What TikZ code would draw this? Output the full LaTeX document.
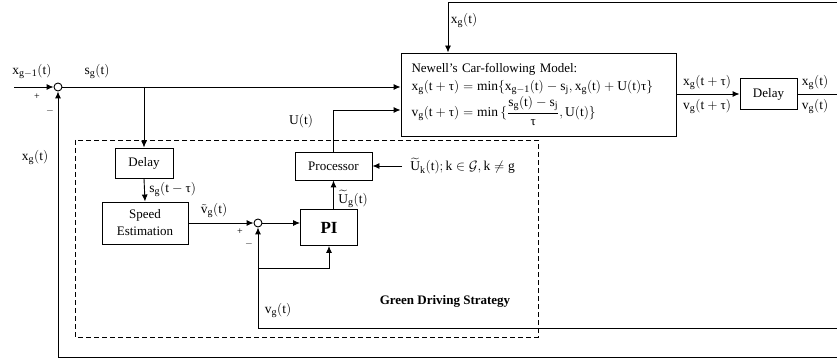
\documentclass[tikz,border=0pt]{standalone}
\usepackage{fix-cm}
\usepackage{amsmath}
\usepackage{fontspec}
\setmainfont{Liberation Serif}
\DeclareMathSizes{13}{13.5}{10}{8}
\usetikzlibrary{arrows.meta,calc}
\newcommand\vsub[2]{\mathrm{#1}_{\mathrm{#2}}}
\newcommand\utau{\mbox{τ}}
\begin{document}
\begin{tikzpicture}[x=1pt,y=-1pt,
  font=\fontsize{13}{15}\selectfont,
  line width=0.9pt,
  arr/.style={-{Latex[length=7pt,width=6pt]}},
  blk/.style={draw,rectangle,inner sep=0pt,align=center},
  sumj/.style={draw,circle,minimum size=8pt,inner sep=0pt},
  lbl/.style={inner sep=0pt}]
\useasboundingbox (0,0) rectangle (837,363);

% blocks
\node[blk,minimum width=275pt,minimum height=83pt,text width=254pt,align=left] (newell) at (538.5,94.5)
 {Newell’s Car-following Model:\\[3pt]
  $\vsub{x}{g}(\mathrm{t}+\utau)=\min\{\vsub{x}{g-1}(\mathrm{t})-\vsub{s}{j},\vsub{x}{g}(\mathrm{t})+\mathrm{U}(\mathrm{t})\utau\}$\\[1pt]
  $\vsub{v}{g}(\mathrm{t}+\utau)=\min\,\{\dfrac{\vsub{s}{g}(\mathrm{t})-\vsub{s}{j}}{\utau},\mathrm{U}(\mathrm{t})\}$};

\node[sumj] (j1) at (58,87) {};
\node[blk,minimum width=58pt,minimum height=30pt] (delay1) at (144,163) {Delay};
\node[blk,minimum width=86pt,minimum height=42pt] (se) at (145,223) {Speed\\[2pt]Estimation};
\node[sumj] (j2) at (258,223) {};
\node[blk,minimum width=57pt,minimum height=36pt] (pi) at (329,227.5) {\fontsize{17}{20}\selectfont\bfseries PI};
\node[blk,minimum width=77pt,minimum height=28pt] (proc) at (333.5,166) {Processor};
\node[blk,minimum width=57pt,minimum height=31pt] (delay2) at (768.5,94) {Delay};

% free ends
\coordinate (in1) at (14,87);
\coordinate (b1) at (144,87);
\coordinate (topR) at (837,2);
\coordinate (topL) at (448,2);
\coordinate (outR) at (837,94);
\coordinate (vR) at (837,328);
\coordinate (vL) at (258,328);
\coordinate (vb) at (258,268);
\coordinate (xR) at (837,357);
\coordinate (xL) at (58,357);
\coordinate (pin) at (402,166);
\coordinate (n2y) at (0,110);

% connectors
\draw[arr] (in1) -- (j1.west);
\draw[arr] (j1.east) -- (j1 -| newell.west);
\draw[arr] (b1) -- (delay1.north);
\draw[arr] (delay1.south) -- (se.north);
\draw[arr] (se.east) -- (j2.west);
\draw[arr] (j2.east) -- (j2 -| pi.west);
\draw[arr] (pi.north -| proc) -- (proc.south);
\draw[arr] (proc.north) |- (newell.west |- n2y);
\draw[arr] (topR) -- (topL) -- (topL |- newell.north);
\draw[arr] (newell.east |- delay2) -- (delay2.west);
\draw (delay2.east) -- (outR);
\draw[arr] (vR) -- (vL) -- (j2.south);
\draw[arr] (vb) -| (pi.south);
\draw[arr] (xR) -- (xL) -- (j1.south);
\draw[arr] (pin) -- (proc.east);

% dashed group
\draw[dashed,line width=0.8pt,dash pattern=on 5pt off 3pt] (75,140) rectangle (538,337);

% labels
\node[lbl] (l1) at (32,72) {$\vsub{x}{g-1}(\mathrm{t})$};
\node[lbl] (l2) at (97,72) {$\vsub{s}{g}(\mathrm{t})$};
\node[lbl,font=\fontsize{10}{12}\selectfont] (p1) at (37,97) {+};
\node[lbl,font=\fontsize{10}{12}\selectfont] (m1) at (50,111) {$-$};
\node[lbl] (l3) at (35,158) {$\vsub{x}{g}(\mathrm{t})$};
\node[lbl] (l4) at (464,21) {$\vsub{x}{g}(\mathrm{t})$};
\node[lbl] (l5) at (301,121) {$\mathrm{U}(\mathrm{t})$};
\node[lbl,anchor=west] (l6) at (149,190) {$\vsub{s}{g}(\mathrm{t}-\utau)$};
\node[lbl] (l7) at (214,211) {$\tilde{\mathrm{v}}_{\mathrm{g}}(\mathrm{t})$};
\node[lbl,font=\fontsize{10}{12}\selectfont] (p2) at (240,232) {+};
\node[lbl,font=\fontsize{10}{12}\selectfont] (m2) at (249,244) {$-$};
\node[lbl,anchor=west] (l8) at (338,199) {$\widetilde{\mathrm{U}}_{\mathrm{g}}(\mathrm{t})$};
\node[lbl,anchor=west] (l9) at (410,166) {$\widetilde{\mathrm{U}}_{\mathrm{k}}(\mathrm{t});\mathrm{k}\in\mathcal{G},\mathrm{k}\neq\mathrm{g}$};
\node[lbl] (l10) at (278,311) {$\vsub{v}{g}(\mathrm{t})$};
\node[lbl,font=\fontsize{13}{15}\selectfont\bfseries] (gds) at (445,301) {Green Driving Strategy};
\node[lbl] (l11) at (707,83) {$\vsub{x}{g}(\mathrm{t}+\utau)$};
\node[lbl] (l12) at (707,107) {$\vsub{v}{g}(\mathrm{t}+\utau)$};
\node[lbl] (l13) at (815,83) {$\vsub{x}{g}(\mathrm{t})$};
\node[lbl] (l14) at (815,107) {$\vsub{v}{g}(\mathrm{t})$};
\end{tikzpicture}
\end{document}
